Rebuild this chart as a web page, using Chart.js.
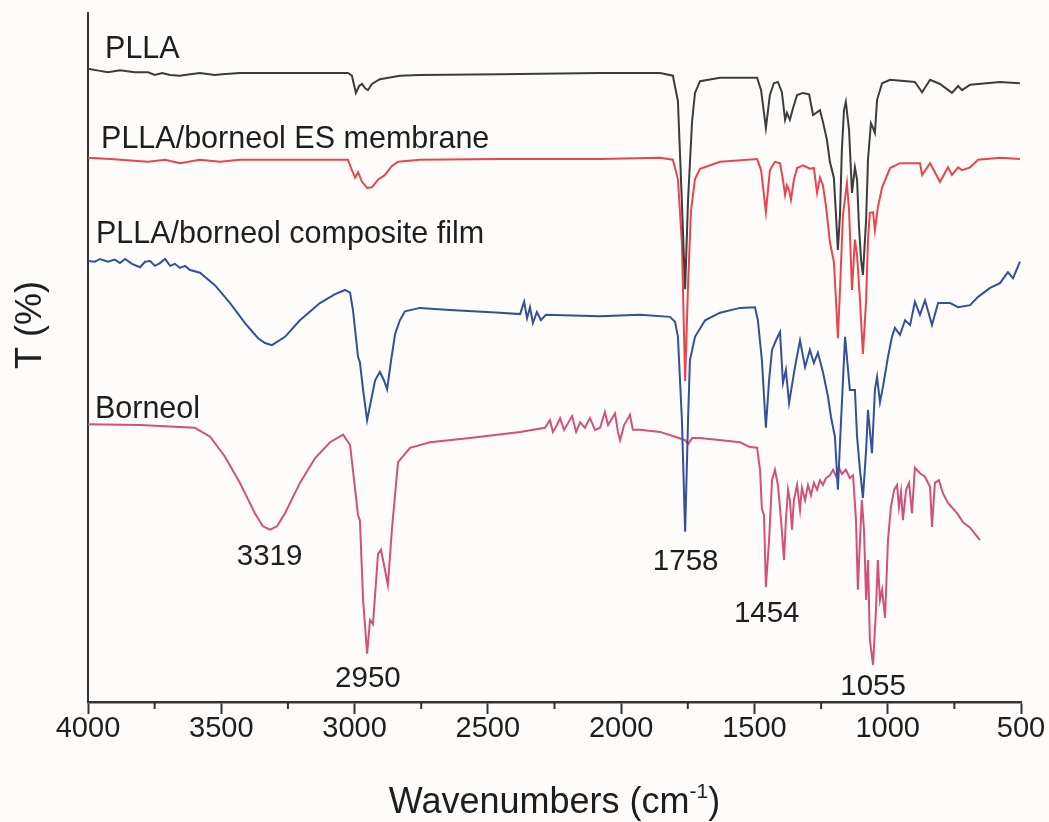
<!DOCTYPE html>
<html>
<head>
<meta charset="utf-8">
<script src="https://cdn.jsdelivr.net/npm/chart.js@4.4.1/dist/chart.umd.min.js"></script>
<style>
  html, body { margin: 0; padding: 0; background: #fdfcfb; }
  #wrap { width: 1049px; height: 822px; }
</style>
</head>
<body>
<div id="wrap"><canvas id="ftir"></canvas></div>
<script>
// wavenumbers (cm-1) and transmittance (offset, %)
const pllaWn = [4000,3955,3925,3880,3824,3775,3749,3722,3692,3655,3617,3580,3524,3497,3430,3205,3025,3010,2995,2983,2972,2961,2950,2935,2905,2830,2755,2455,2079,1854,1806,1787,1772,1760,1749,1734,1723,1704,1629,1490,1475,1457,1442,1427,1412,1397,1385,1378,1367,1355,1340,1318,1295,1280,1265,1254,1243,1228,1217,1202,1194,1187,1179,1172,1164,1157,1145,1134,1123,1115,1108,1100,1093,1081,1074,1063,1055,1048,1040,1021,991,898,871,841,804,759,736,721,691,579,504];
const pllaT = [91.9,91.6,91.4,91.7,91.4,91.4,91.0,91.3,91.0,90.9,91.1,91.3,91.0,91.1,91.3,91.3,91.3,90.9,88.4,89.4,89.7,89.1,88.8,89.7,90.4,90.9,91.0,91.1,91.3,91.3,90.9,87.2,72.4,59.9,72.9,84.2,88.4,90.1,90.6,90.6,88.8,83.3,88.1,89.8,90.0,88.5,84.5,85.5,84.5,86.2,88.1,88.4,88.2,85.2,85.6,85.9,84.2,81.6,78.4,76.1,70.7,65.6,70.7,80.1,85.9,87.1,83.0,73.9,77.6,75.8,69.2,64.2,62.0,70.0,78.7,84.0,83.3,82.6,87.4,89.8,90.3,90.0,88.5,90.3,89.7,88.4,89.4,88.8,89.6,90.0,89.8];

const esWn = [4000,3917,3775,3711,3655,3580,3505,3430,3205,3025,3010,2998,2987,2972,2953,2935,2912,2886,2860,2837,2755,2455,2079,1854,1806,1787,1772,1760,1749,1738,1723,1704,1629,1490,1475,1457,1442,1423,1404,1393,1385,1378,1370,1363,1352,1340,1318,1292,1277,1265,1254,1243,1232,1217,1209,1202,1194,1187,1179,1168,1153,1145,1134,1123,1115,1104,1093,1081,1074,1067,1055,1048,1037,1021,991,954,879,871,841,804,774,759,736,721,691,661,579,504];
const esT = [79.0,78.8,78.4,78.7,78.2,78.7,78.4,78.7,78.7,78.7,77.2,76.1,76.9,75.5,74.6,74.7,75.8,76.5,77.8,78.4,78.7,78.8,78.8,79.0,78.7,75.9,66.5,46.6,60.5,71.3,75.9,77.4,78.4,78.8,77.2,71.1,77.2,78.4,78.2,75.8,73.6,75.0,74.3,72.9,75.8,77.5,77.9,77.4,77.5,73.9,76.1,75.0,72.1,66.8,65.2,63.9,58.3,52.8,59.8,70.7,75.3,71.4,59.8,67.1,64.9,58.3,50.5,58.3,67.1,71.0,71.1,68.5,71.8,74.7,77.5,78.2,78.2,76.5,78.2,75.5,77.6,76.5,77.6,77.2,77.6,78.7,79.0,78.8];

const filmWn = [4000,3974,3955,3925,3899,3880,3861,3835,3805,3786,3767,3749,3730,3711,3692,3674,3655,3636,3617,3580,3524,3467,3411,3362,3336,3310,3261,3205,3130,3073,3036,3017,3006,2998,2987,2980,2968,2953,2938,2923,2905,2890,2878,2863,2848,2830,2811,2755,2642,2455,2379,2364,2353,2342,2331,2316,2301,2282,2079,1929,1817,1798,1787,1772,1760,1749,1742,1723,1685,1629,1554,1498,1487,1472,1457,1445,1434,1419,1404,1393,1382,1370,1359,1348,1329,1310,1292,1277,1262,1243,1224,1213,1198,1187,1175,1160,1142,1123,1115,1104,1093,1081,1074,1059,1048,1040,1029,1018,999,984,973,954,935,916,898,879,860,834,811,766,736,691,661,616,579,549,530,504];
const filmT = [64.0,63.9,64.3,63.9,64.2,63.7,64.3,63.6,63.1,63.9,64.0,63.3,63.7,64.3,63.3,63.6,63.0,63.3,62.7,62.3,60.5,57.9,55.0,52.8,52.1,51.8,53.0,55.4,57.9,59.2,59.8,59.4,56.9,54.0,50.1,49.3,45.3,40.9,43.8,46.7,47.9,46.7,45.4,49.6,53.4,55.4,56.7,57.2,56.9,56.5,56.3,58.1,55.7,57.3,55.0,56.6,55.4,56.2,56.0,56.2,55.9,55.2,53.0,40.9,24.7,40.9,49.6,53.0,55.4,56.5,57.2,57.3,55.4,49.6,39.8,46.7,51.1,52.5,53.7,46.3,48.2,43.4,46.0,48.6,52.5,48.6,51.1,49.2,50.7,47.9,44.3,41.4,38.5,30.8,40.9,53.0,45.3,45.3,38.5,33.7,29.6,36.6,42.4,36.1,45.3,47.2,43.5,45.7,50.1,53.0,54.3,53.3,55.4,54.7,58.1,56.2,58.3,54.7,57.9,57.9,57.3,57.6,58.8,60.1,60.8,62.4,61.5,63.9];

const bornWn = [4000,3805,3655,3599,3542,3486,3430,3374,3344,3317,3291,3261,3205,3148,3092,3043,3017,2998,2987,2980,2968,2953,2942,2931,2912,2901,2886,2875,2860,2837,2792,2717,2567,2379,2286,2267,2256,2241,2229,2214,2199,2184,2169,2154,2136,2117,2098,2079,2061,2049,2034,2023,2012,2004,1989,1974,1967,1956,1929,1854,1806,1760,1749,1734,1704,1554,1517,1490,1479,1472,1464,1457,1445,1434,1423,1412,1400,1389,1382,1374,1367,1359,1352,1340,1329,1322,1310,1299,1288,1277,1265,1254,1243,1232,1217,1205,1194,1183,1172,1157,1142,1130,1119,1112,1104,1097,1089,1081,1074,1067,1055,1044,1037,1029,1021,1010,999,988,976,965,958,950,943,931,920,909,898,879,860,841,834,823,808,793,774,740,718,691,654];
const bornT = [40.3,40.2,39.9,39.8,38.5,35.6,31.8,27.4,25.5,25.0,25.5,27.4,31.8,35.4,37.7,38.8,37.3,30.9,27.1,26.4,14.8,7.0,11.9,11.3,21.5,22.1,19.2,17.0,25.0,34.8,36.9,37.7,38.3,39.2,39.8,40.9,39.2,40.2,41.2,39.5,40.5,41.5,39.2,40.6,39.8,41.2,39.5,39.8,42.1,40.2,41.2,41.9,39.2,38.0,40.2,41.2,41.7,39.5,39.5,39.2,38.6,38.0,37.4,38.3,38.3,37.7,37.0,36.9,33.7,28.0,27.1,16.7,23.5,32.2,33.7,31.5,26.4,20.6,26.4,30.8,29.3,25.0,29.3,31.5,27.9,31.1,29.3,31.5,30.0,31.8,30.8,32.2,31.5,32.5,32.9,33.7,32.8,34.0,33.1,33.7,32.5,32.9,26.4,16.3,23.5,29.3,25.0,14.8,20.6,9.0,5.4,13.4,20.6,14.8,16.3,12.2,23.5,28.3,30.8,31.5,28.3,30.5,26.4,30.8,31.8,27.4,34.0,33.2,32.7,31.2,25.4,31.8,32.2,30.3,28.9,27.4,26.1,25.3,23.5];

const seriesNames = ["PLLA", "PLLA/borneol ES membrane", "PLLA/borneol composite film", "Borneol"];
const nameWn = [3936, 3951, 3970, 3974];
const nameT = [93.5, 80.4, 66.6, 41.2];

const peakWn = [3319, 2950, 1758, 1454, 1055];
const peakT = [19.9, 2.2, 19.2, 11.6, 1.0];

const FONT = '"Liberation Sans", Arial, sans-serif';

function pts(wn, t) {
    return wn.map((w, i) => ({ x: w, y: t[i] }));
}

// texts and minor ticks
const textLayer = {
    id: "textLayer",
    afterDraw(chart) {
        const ctx = chart.ctx;
        const x = chart.scales.x;
        const y = chart.scales.y;
        ctx.save();

        ctx.strokeStyle = "#333";
        ctx.lineWidth = 2;
        for (let v = 750; v < 4000; v += 500) {
            const px = x.getPixelForValue(v);
            ctx.beginPath();
            ctx.moveTo(px, y.bottom);
            ctx.lineTo(px, y.bottom + 7);
            ctx.stroke();
        }

        ctx.fillStyle = "#1e1e1e";
        ctx.font = "30.5px " + FONT;
        ctx.textBaseline = "alphabetic";
        ctx.textAlign = "left";
        seriesNames.forEach((name, i) => {
            ctx.fillText(name, x.getPixelForValue(nameWn[i]), y.getPixelForValue(nameT[i]));
        });
        ctx.font = "29.5px " + FONT;
        ctx.textAlign = "center";
        peakWn.forEach((wn, i) => {
            ctx.fillText(String(wn), x.getPixelForValue(wn), y.getPixelForValue(peakT[i]));
        });

        // x title with superscript
        const big = "36px " + FONT;
        const small = "21px " + FONT;
        ctx.font = big;
        const w1 = ctx.measureText("Wavenumbers (cm").width;
        const w3 = ctx.measureText(")").width;
        ctx.font = small;
        const w2 = ctx.measureText("-1").width;
        const cx = (x.left + x.right) / 2;
        const sx = cx - (w1 + w2 + w3) / 2;
        const base = 813;
        ctx.textAlign = "left";
        ctx.font = big;
        ctx.fillText("Wavenumbers (cm", sx, base);
        ctx.font = small;
        ctx.fillText("-1", sx + w1, base - 15);
        ctx.font = big;
        ctx.fillText(")", sx + w1 + w2, base);

        // y title
        ctx.translate(x.left - 57, 325);
        ctx.rotate(-Math.PI / 2);
        ctx.textAlign = "center";
        ctx.textBaseline = "middle";
        ctx.font = big;
        ctx.fillText("T (%)", 0, 0);
        ctx.restore();
    }
};

document.addEventListener("DOMContentLoaded", function () {
    const ctx = document.getElementById("ftir").getContext("2d");
    new Chart(ctx, {
        type: "line",
        data: {
            datasets: [
                { label: seriesNames[0], data: pts(pllaWn, pllaT), borderColor: "#3c3c3c" },
                { label: seriesNames[1], data: pts(esWn, esT), borderColor: "#e8464e" },
                { label: seriesNames[2], data: pts(filmWn, filmT), borderColor: "#33509a" },
                { label: seriesNames[3], data: pts(bornWn, bornT), borderColor: "#d2507c" }
            ]
        },
        options: {
            responsive: true,
            maintainAspectRatio: false,
            animation: false,
            devicePixelRatio: 1,
            layout: { padding: { top: 13, right: 28, left: 0, bottom: 0 } },
            elements: {
                line: { borderWidth: 2, tension: 0, fill: false },
                point: { radius: 0 }
            },
            plugins: {
                legend: { display: false },
                tooltip: { enabled: false }
            },
            scales: {
                x: {
                    type: "linear",
                    reverse: true,
                    min: 500,
                    max: 4000,
                    afterFit: function (scale) { scale.height = 120; },
                    ticks: {
                        stepSize: 500,
                        autoSkip: false,
                        maxRotation: 0,
                        padding: -2,
                        color: "#1e1e1e",
                        font: { size: 29, family: FONT },
                        callback: function (v) { return String(v); }
                    },
                    grid: {
                        drawOnChartArea: false,
                        drawTicks: true,
                        tickLength: 12,
                        tickWidth: 2,
                        tickColor: "#333"
                    },
                    border: { display: true, color: "#333", width: 2.5 }
                },
                y: {
                    min: 0,
                    max: 100,
                    afterFit: function (scale) { scale.width = 88; },
                    ticks: { display: false },
                    grid: { drawOnChartArea: false, drawTicks: false },
                    border: { display: true, color: "#333", width: 2 }
                }
            }
        },
        plugins: [textLayer]
    });
});
</script>
</body>
</html>
